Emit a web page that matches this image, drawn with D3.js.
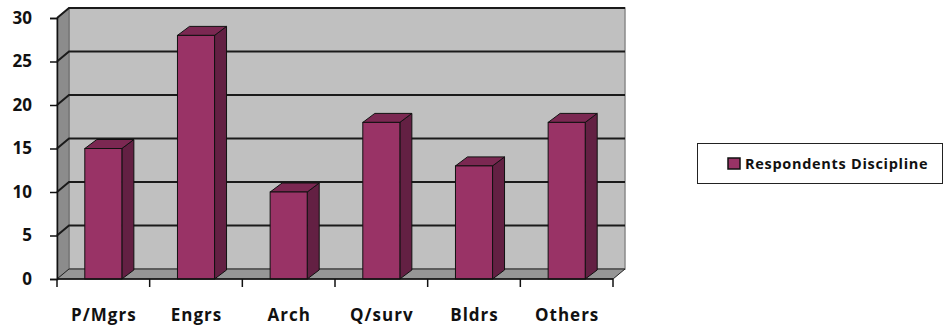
<!DOCTYPE html>
<html><head><meta charset="utf-8">
<script src="https://cdn.jsdelivr.net/npm/d3@7"></script>
<style>body{margin:0;background:#fff}svg{display:block}</style>
</head><body>
<svg id="c" width="945" height="329"></svg>
<script>
const categories = ["P/Mgrs","Engrs","Arch","Q/surv","Bldrs","Others"];
const values = [15,28,10,18,13,18];
const yTicks = [0,5,10,15,20,25,30];
const seriesName = "Respondents Discipline";

const svg = d3.select("#c");
const font = "'Open Sans', sans-serif";
const DX = 12, DY = -10;
const x0 = 57, x1 = 613, yTop = 18, yBot = 279;
const x = d3.scaleBand().domain(categories).range([x0, x1]).paddingInner(0.6).paddingOuter(0.3);
const y = d3.scaleLinear().domain([0,30]).range([yBot, yTop]);

// back wall
svg.append("rect").attr("x", x0+DX).attr("y", yTop+DY).attr("width", x1-x0).attr("height", yBot-yTop)
  .attr("fill", "#c0c0c0").attr("stroke", "#8a8a8a").attr("stroke-width", 1.5);
// side wall
svg.append("polygon").attr("points", [[x0,yTop],[x0+DX,yTop+DY],[x0+DX,yBot+DY],[x0,yBot]].join(" "))
  .attr("fill", "#8c8c8c").attr("stroke", "#6a6a6a").attr("stroke-width", 1);
// floor
svg.append("polygon").attr("points", [[x0,yBot],[x0+DX,yBot+DY],[x1+DX,yBot+DY],[x1,yBot]].join(" "))
  .attr("fill", "#969696").attr("stroke", "#222").attr("stroke-width", 1);

// gridlines
yTicks.forEach(t => {
  if (t === 0) return;
  const yy = y(t);
  svg.append("path").attr("d", `M${x0},${yy}L${x0+DX},${yy+DY}L${x1+DX},${yy+DY}`)
    .attr("fill","none").attr("stroke","#1a1a1a").attr("stroke-width",2);
});

// bars
const BDX = 12, BDY = -9;
const g = svg.append("g");
categories.forEach((c,i) => {
  const bx = x(c), bw = x.bandwidth(), by = y(values[i]), bb = y(0);
  g.append("polygon").attr("points", [[bx+bw,by],[bx+bw+BDX,by+BDY],[bx+bw+BDX,bb+BDY],[bx+bw,bb]].join(" "))
    .attr("fill","#632043").attr("stroke","#111").attr("stroke-width",1);
  g.append("polygon").attr("points", [[bx,by],[bx+BDX,by+BDY],[bx+bw+BDX,by+BDY],[bx+bw,by]].join(" "))
    .attr("fill","#7b2852").attr("stroke","#111").attr("stroke-width",1);
  g.append("rect").attr("x",bx).attr("y",by).attr("width",bw).attr("height",bb-by)
    .attr("fill","#993366").attr("stroke","#111").attr("stroke-width",1);
});

// y axis
const yAxis = d3.axisLeft(y).tickValues(yTicks).tickSize(7).tickPadding(18);
const ya = svg.append("g").attr("transform",`translate(${x0},0)`).call(yAxis);
ya.select(".domain").attr("stroke","#111").attr("stroke-width",1.5);
ya.selectAll(".tick line").attr("stroke","#111").attr("stroke-width",1.5);
ya.selectAll("text").attr("font-family",font).attr("font-weight","bold").attr("font-size",17).attr("fill","#111").attr("text-anchor","end");

// x axis
const xa = svg.append("g").attr("transform",`translate(0,${yBot})`);
xa.append("line").attr("x1",x0).attr("x2",x1).attr("stroke","#111").attr("stroke-width",1.5);
const step = x.step();
d3.range(categories.length+1).forEach(i => {
  const tx = x0 + i*step;
  xa.append("line").attr("x1",tx).attr("x2",tx).attr("y1",0).attr("y2",8).attr("stroke","#111").attr("stroke-width",1.5);
});
categories.forEach(c => {
  xa.append("text").attr("x", x(c)+x.bandwidth()/2+0.5).attr("y", 42).attr("text-anchor","middle")
    .attr("font-family",font).attr("font-weight","bold").attr("font-size",17).attr("letter-spacing","1px").attr("fill","#111").text(c);
});

// legend
const lg = svg.append("g");
lg.append("rect").attr("x",697.5).attr("y",143.5).attr("width",245).attr("height",40).attr("fill","#fff").attr("stroke","#222").attr("stroke-width",1);
lg.append("rect").attr("x",728).attr("y",158).attr("width",12).attr("height",11).attr("fill","#993366").attr("stroke","#111").attr("stroke-width",1.5);
lg.append("text").attr("x",745).attr("y",169).attr("font-family",font).attr("font-weight","bold").attr("font-size",14.5).attr("letter-spacing","0.7px").attr("fill","#111").text(seriesName);
</script>
</body></html>
